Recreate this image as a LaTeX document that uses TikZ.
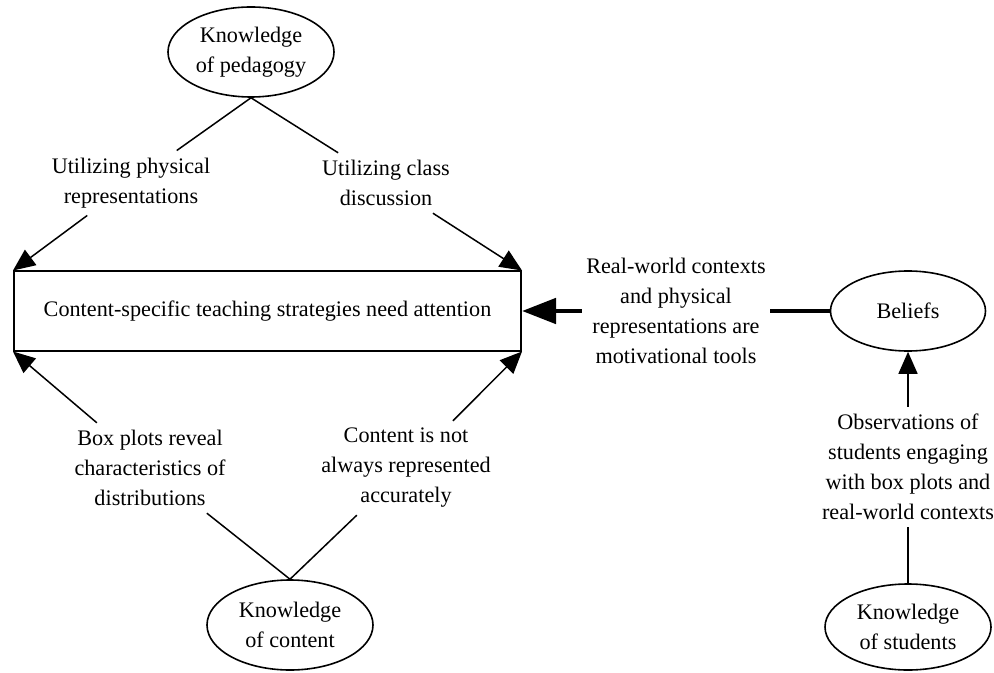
\documentclass[tikz,border=0pt]{standalone}
\usepackage{fontspec}
\setmainfont{Liberation Serif}
\usetikzlibrary{shapes.geometric,arrows.meta}
\tikzset{kbox/.style={ellipse, draw, line width=0.8pt, inner sep=0pt, minimum width=83pt, minimum height=45pt, align=center},
lab/.style={align=center, inner sep=3.5pt},
link/.style={line width=0.75pt},
arr/.style={line width=0.75pt, -{Triangle[length=11pt,width=9.5pt]}},
fat/.style={line width=2.4pt},
%thick connector on the right
fatarr/.style={line width=2.4pt, -{Triangle[length=17pt,width=12.5pt]}}}

\begin{document}
\begin{tikzpicture}[x=0.5pt,y=-0.5pt,font=\fontsize{11.1pt}{15pt}\selectfont]

    \useasboundingbox (0,0) rectangle (994,673);

    \node[kbox] (ped) at (251,52) {Knowledge\\of pedagogy};
    \node[draw, line width=1pt, minimum width=253.5pt, minimum height=39.5pt] (box) at (267.5,311) {Content-specific teaching strategies need attention};
    \node[kbox] (cont) at (290,625) {Knowledge\\of content};
    \node[kbox, minimum width=77.5pt, minimum height=40pt] (bel) at (908,311) {Beliefs};
    \node[kbox, minimum height=43pt] (stud) at (908,627) {Knowledge\\of students};


    \node[lab] (l1) at (131,183) {Utilizing physical\\representations};
    \node[lab] (l2) at (386,183) {Utilizing class\\discussion};
    \node[lab] (l3) at (150,468) {Box plots reveal\\characteristics of\\distributions};
    \node[lab] (l4) at (406,468) {Content is not\\always represented\\accurately};
    \node[lab, inner sep=2pt] (l5) at (676,311) {Real-world contexts\\and physical\\representations are\\motivational tools};
    \node[lab] (l6) at (908,467) {Observations of\\students engaging\\with box plots and\\real-world contexts};

    \foreach \i in {l1,l2}
    \draw[link] (ped.south) -- (\i);

    \foreach \i in {l3,l4}
    \draw[link] (cont.north) -- (\i);

    \foreach \i/\j in {l1/north west, l2/north east, l3/south west, l4/south east}
    \draw[arr] (\i) -- (box.\j);

    \draw[fat] (bel) -- (l5);
    \draw[fatarr] (l5) -- (box);
    \draw[link] (stud) -- (l6);
    \draw[arr] (l6) -- (bel);

  \end{tikzpicture}
\end{document}
